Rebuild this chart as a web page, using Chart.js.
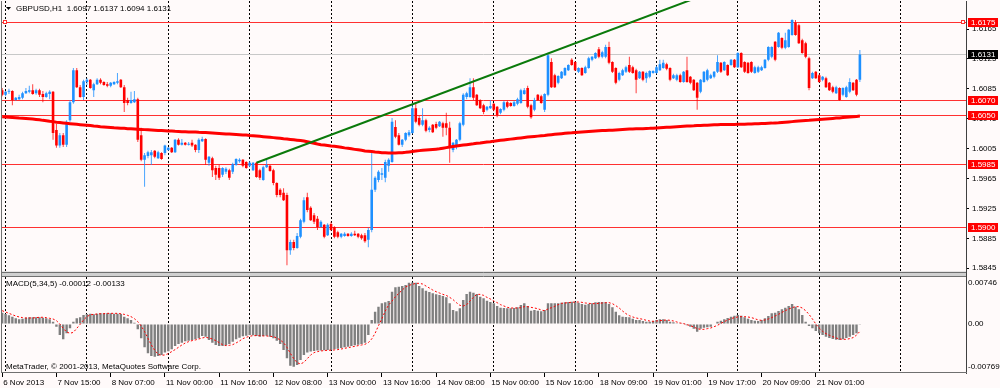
<!DOCTYPE html>
<html>
<head>
<meta charset="utf-8">
<title>GBPUSD,H1</title>
<script src="https://cdn.jsdelivr.net/npm/chart.js@4.4.1/dist/chart.umd.min.js"></script>
<style>
  html, body { margin: 0; padding: 0; background: #fffafa; }
  #wrap { width: 1000px; height: 388px; }
</style>
</head>
<body>
<div id="wrap"><canvas id="mt4Chart" width="1000" height="388"></canvas></div>
<script>
// GBPUSD H1 candles, one entry per hourly bar (bar 0 = 6 Nov 23:00)
const opens = [
  1.6083,1.6077,1.6081,1.6082,1.6070,1.6071,1.6073,1.6079,1.6081,1.6083,
  1.6079,1.6083,1.6078,1.6074,1.6078,1.6081,1.6030,1.6009,1.6023,1.6010,
  1.6043,1.6067,1.6110,1.6087,1.6074,1.6094,1.6097,1.6083,1.6091,1.6097,
  1.6094,1.6091,1.6089,1.6091,1.6093,1.6097,1.6087,1.6070,1.6066,1.6067,
  1.6071,1.6023,1.5990,1.5995,1.5996,1.6002,1.5992,1.5999,1.5999,1.6003,
  1.6006,1.6000,1.6017,1.6010,1.6013,1.6010,1.6013,1.6010,1.6003,1.6015,
  1.6018,1.5986,1.5992,1.5979,1.5979,1.5970,1.5974,1.5976,1.5974,1.5983,
  1.5988,1.5990,1.5987,1.5982,1.5976,1.5986,1.5976,1.5963,1.5980,1.5982,
  1.5976,1.5959,1.5950,1.5946,1.5943,1.5869,1.5880,1.5872,1.5887,1.5907,
  1.5940,1.5926,1.5916,1.5911,1.5900,1.5903,1.5889,1.5904,1.5900,1.5893,
  1.5887,1.5888,1.5891,1.5888,1.5891,1.5891,1.5889,1.5889,1.5883,1.5896,
  1.5950,1.5963,1.5970,1.5966,1.5982,1.5987,1.6034,1.6023,1.6010,1.6017,
  1.6023,1.6026,1.6059,1.6046,1.6037,1.6043,1.6030,1.6037,1.6038,1.6035,
  1.6039,1.6039,1.6033,1.6003,1.6007,1.6017,1.6037,1.6074,1.6074,1.6087,
  1.6077,1.6070,1.6063,1.6057,1.6059,1.6065,1.6061,1.6053,1.6057,1.6067,
  1.6066,1.6062,1.6065,1.6066,1.6078,1.6086,1.6063,1.6057,1.6077,1.6075,
  1.6057,1.6077,1.6121,1.6103,1.6093,1.6099,1.6103,1.6110,1.6124,1.6121,
  1.6108,1.6113,1.6106,1.6113,1.6124,1.6126,1.6138,1.6128,1.6128,1.6141,
  1.6121,1.6113,1.6097,1.6103,1.6108,1.6117,1.6114,1.6110,1.6099,1.6108,
  1.6099,1.6101,1.6106,1.6106,1.6110,1.6113,1.6118,1.6113,1.6099,1.6097,
  1.6103,1.6094,1.6110,1.6101,1.6097,1.6093,1.6081,1.6094,1.6097,1.6099,
  1.6101,1.6108,1.6120,1.6110,1.6117,1.6117,1.6124,1.6114,1.6133,1.6121,
  1.6120,1.6121,1.6106,1.6108,1.6110,1.6113,1.6124,1.6128,1.6148,1.6141,
  1.6153,1.6140,1.6141,1.6157,1.6173,1.6170,1.6150,1.6146,1.6126,1.6099,
  1.6108,1.6103,1.6097,1.6099,1.6093,1.6087,1.6079,1.6086,1.6077,1.6074,
  1.6081,1.6093,1.6097,1.6097
];
const highs = [
  1.6086,1.6082,1.6085,1.6083,1.6074,1.6077,1.6081,1.6086,1.6089,1.6091,
  1.6085,1.6085,1.6082,1.6081,1.6083,1.6082,1.6038,1.6026,1.6026,1.6043,
  1.6070,1.6113,1.6113,1.6090,1.6097,1.6099,1.6098,1.6093,1.6099,1.6099,
  1.6095,1.6094,1.6094,1.6095,1.6106,1.6098,1.6090,1.6073,1.6081,1.6082,
  1.6073,1.6033,1.5999,1.6002,1.6003,1.6003,1.6002,1.6000,1.6010,1.6007,
  1.6007,1.6018,1.6019,1.6018,1.6014,1.6014,1.6017,1.6011,1.6019,1.6021,
  1.6019,1.5995,1.5994,1.5982,1.5983,1.5980,1.5980,1.5978,1.5986,1.5992,
  1.5992,1.5991,1.5988,1.5988,1.5987,1.5987,1.5978,1.5982,1.5992,1.5983,
  1.5978,1.5960,1.5952,1.5952,1.5946,1.5883,1.5883,1.5892,1.5911,1.5940,
  1.5946,1.5928,1.5919,1.5915,1.5909,1.5904,1.5905,1.5907,1.5901,1.5895,
  1.5892,1.5893,1.5892,1.5893,1.5895,1.5892,1.5891,1.5892,1.5899,1.6000,
  1.5968,1.5976,1.5979,1.5990,1.5992,1.6046,1.6043,1.6026,1.6018,1.6027,
  1.6030,1.6063,1.6066,1.6049,1.6059,1.6045,1.6035,1.6038,1.6041,1.6042,
  1.6041,1.6053,1.6041,1.6014,1.6018,1.6041,1.6079,1.6081,1.6099,1.6099,
  1.6078,1.6071,1.6065,1.6062,1.6070,1.6066,1.6062,1.6059,1.6069,1.6069,
  1.6067,1.6069,1.6073,1.6085,1.6086,1.6089,1.6065,1.6073,1.6078,1.6077,
  1.6079,1.6133,1.6126,1.6105,1.6103,1.6109,1.6114,1.6118,1.6126,1.6122,
  1.6114,1.6114,1.6116,1.6128,1.6129,1.6134,1.6141,1.6136,1.6144,1.6148,
  1.6122,1.6114,1.6108,1.6112,1.6116,1.6128,1.6116,1.6112,1.6109,1.6109,
  1.6108,1.6110,1.6110,1.6116,1.6124,1.6124,1.6120,1.6114,1.6105,1.6105,
  1.6105,1.6109,1.6128,1.6102,1.6098,1.6094,1.6098,1.6109,1.6112,1.6105,
  1.6109,1.6130,1.6121,1.6122,1.6118,1.6125,1.6125,1.6134,1.6134,1.6122,
  1.6121,1.6122,1.6116,1.6116,1.6116,1.6125,1.6142,1.6142,1.6149,1.6161,
  1.6154,1.6160,1.6165,1.6178,1.6177,1.6172,1.6152,1.6148,1.6128,1.6108,
  1.6109,1.6105,1.6102,1.6101,1.6094,1.6089,1.6089,1.6087,1.6087,1.6089,
  1.6099,1.6094,1.6098,1.6137
];
const lows = [
  1.6075,1.6075,1.6078,1.6063,1.6069,1.6070,1.6071,1.6078,1.6079,1.6077,
  1.6077,1.6074,1.6067,1.6073,1.6071,1.6017,1.6006,1.6006,1.6007,1.6007,
  1.6041,1.6065,1.6086,1.6073,1.6070,1.6090,1.6085,1.6074,1.6090,1.6091,
  1.6089,1.6087,1.6087,1.6090,1.6091,1.6086,1.6054,1.6063,1.6065,1.6066,
  1.6014,1.5988,1.5954,1.5992,1.5983,1.5992,1.5991,1.5990,1.5996,1.6002,
  1.5999,1.5999,1.6009,1.6009,1.6009,1.6009,1.6007,1.6000,1.5999,1.6014,
  1.5983,1.5982,1.5967,1.5963,1.5963,1.5967,1.5971,1.5963,1.5971,1.5982,
  1.5986,1.5980,1.5978,1.5980,1.5975,1.5966,1.5963,1.5962,1.5979,1.5974,
  1.5956,1.5940,1.5940,1.5935,1.5849,1.5863,1.5869,1.5871,1.5885,1.5905,
  1.5920,1.5908,1.5904,1.5896,1.5899,1.5885,1.5888,1.5895,1.5885,1.5885,
  1.5885,1.5887,1.5887,1.5887,1.5888,1.5885,1.5883,1.5879,1.5873,1.5893,
  1.5947,1.5960,1.5963,1.5960,1.5974,1.5986,1.6019,1.6009,1.6007,1.6015,
  1.6021,1.6025,1.6039,1.6035,1.6035,1.6027,1.6027,1.6026,1.6031,1.6034,
  1.6021,1.6023,1.5986,1.6000,1.6004,1.6015,1.6035,1.6071,1.6073,1.6070,
  1.6062,1.6058,1.6051,1.6055,1.6058,1.6055,1.6047,1.6051,1.6055,1.6059,
  1.6061,1.6061,1.6063,1.6065,1.6077,1.6059,1.6045,1.6055,1.6069,1.6065,
  1.6054,1.6075,1.6086,1.6086,1.6091,1.6098,1.6102,1.6109,1.6116,1.6109,
  1.6106,1.6102,1.6105,1.6112,1.6122,1.6125,1.6126,1.6126,1.6126,1.6118,
  1.6106,1.6091,1.6095,1.6102,1.6106,1.6106,1.6105,1.6079,1.6098,1.6095,
  1.6093,1.6099,1.6105,1.6105,1.6109,1.6112,1.6110,1.6095,1.6098,1.6095,
  1.6093,1.6093,1.6093,1.6091,1.6082,1.6057,1.6079,1.6093,1.6095,1.6098,
  1.6099,1.6106,1.6106,1.6109,1.6102,1.6116,1.6113,1.6113,1.6113,1.6106,
  1.6105,1.6106,1.6105,1.6106,1.6109,1.6112,1.6122,1.6126,1.6122,1.6140,
  1.6138,1.6138,1.6140,1.6156,1.6156,1.6145,1.6132,1.6126,1.6083,1.6098,
  1.6098,1.6093,1.6095,1.6086,1.6082,1.6079,1.6078,1.6069,1.6075,1.6073,
  1.6079,1.6082,1.6075,1.6094
];
const closes = [
  1.6077,1.6081,1.6082,1.6070,1.6073,1.6074,1.6079,1.6082,1.6083,1.6078,
  1.6083,1.6077,1.6074,1.6079,1.6081,1.6026,1.6009,1.6023,1.6010,1.6041,
  1.6067,1.6110,1.6087,1.6074,1.6095,1.6097,1.6086,1.6091,1.6097,1.6093,
  1.6090,1.6089,1.6093,1.6094,1.6095,1.6087,1.6066,1.6066,1.6070,1.6071,
  1.6017,1.5990,1.5996,1.6000,1.6000,1.5994,1.6000,1.5991,1.6009,1.6006,
  1.6000,1.6017,1.6010,1.6013,1.6010,1.6011,1.6009,1.6003,1.6017,1.6018,
  1.5990,1.5994,1.5976,1.5970,1.5966,1.5979,1.5978,1.5966,1.5984,1.5991,
  1.5990,1.5982,1.5979,1.5986,1.5986,1.5967,1.5966,1.5980,1.5983,1.5975,
  1.5959,1.5943,1.5943,1.5936,1.5869,1.5880,1.5872,1.5888,1.5909,1.5936,
  1.5923,1.5909,1.5907,1.5900,1.5907,1.5887,1.5903,1.5896,1.5887,1.5887,
  1.5891,1.5891,1.5888,1.5891,1.5889,1.5887,1.5885,1.5881,1.5896,1.5950,
  1.5966,1.5974,1.5972,1.5987,1.5990,1.6041,1.6021,1.6010,1.6017,1.6026,
  1.6027,1.6059,1.6041,1.6037,1.6043,1.6029,1.6033,1.6027,1.6033,1.6041,
  1.6033,1.6033,1.6006,1.6013,1.6017,1.6039,1.6077,1.6079,1.6087,1.6073,
  1.6063,1.6059,1.6054,1.6061,1.6062,1.6057,1.6050,1.6058,1.6067,1.6061,
  1.6062,1.6067,1.6071,1.6083,1.6083,1.6061,1.6047,1.6070,1.6070,1.6066,
  1.6078,1.6130,1.6087,1.6087,1.6102,1.6108,1.6113,1.6117,1.6117,1.6110,
  1.6113,1.6103,1.6114,1.6126,1.6128,1.6133,1.6128,1.6134,1.6141,1.6120,
  1.6108,1.6093,1.6106,1.6110,1.6114,1.6108,1.6106,1.6097,1.6108,1.6097,
  1.6106,1.6109,1.6109,1.6114,1.6118,1.6120,1.6112,1.6097,1.6103,1.6103,
  1.6094,1.6108,1.6094,1.6093,1.6083,1.6073,1.6097,1.6108,1.6110,1.6103,
  1.6108,1.6121,1.6108,1.6121,1.6103,1.6124,1.6114,1.6133,1.6114,1.6108,
  1.6106,1.6108,1.6114,1.6114,1.6114,1.6124,1.6141,1.6141,1.6124,1.6160,
  1.6140,1.6150,1.6164,1.6177,1.6157,1.6146,1.6133,1.6128,1.6086,1.6106,
  1.6099,1.6094,1.6101,1.6087,1.6083,1.6081,1.6087,1.6070,1.6086,1.6087,
  1.6094,1.6083,1.6077,1.6131
];

// thick red moving average
const maValues = [
  1.60477,1.60473,1.60470,1.60466,1.60463,1.60459,1.60457,1.60453,1.60450,1.60446,
  1.60440,1.60435,1.60428,1.60423,1.60416,1.60411,1.60404,1.60399,1.60394,1.60388,
  1.60384,1.60379,1.60375,1.60370,1.60366,1.60362,1.60358,1.60352,1.60348,1.60343,
  1.60340,1.60336,1.60333,1.60329,1.60327,1.60324,1.60321,1.60317,1.60315,1.60312,
  1.60309,1.60307,1.60304,1.60301,1.60299,1.60296,1.60293,1.60291,1.60288,1.60285,
  1.60284,1.60281,1.60280,1.60277,1.60276,1.60273,1.60272,1.60271,1.60268,1.60267,
  1.60265,1.60263,1.60259,1.60256,1.60253,1.60250,1.60246,1.60244,1.60241,1.60238,
  1.60236,1.60233,1.60232,1.60226,1.60222,1.60218,1.60214,1.60209,1.60205,1.60201,
  1.60197,1.60192,1.60188,1.60182,1.60178,1.60173,1.60168,1.60162,1.60157,1.60151,
  1.60142,1.60131,1.60121,1.60111,1.60103,1.60097,1.60091,1.60085,1.60081,1.60075,
  1.60069,1.60060,1.60054,1.60047,1.60040,1.60034,1.60027,1.60018,1.60014,1.60010,
  1.60004,1.60000,1.59995,1.59994,1.59992,1.59991,1.59992,1.59994,1.59996,1.60000,
  1.60006,1.60012,1.60018,1.60023,1.60027,1.60031,1.60035,1.60039,1.60043,1.60047,
  1.60055,1.60063,1.60071,1.60079,1.60086,1.60093,1.60098,1.60103,1.60109,1.60114,
  1.60121,1.60126,1.60133,1.60138,1.60143,1.60150,1.60155,1.60161,1.60166,1.60172,
  1.60177,1.60182,1.60188,1.60193,1.60198,1.60204,1.60209,1.60213,1.60217,1.60222,
  1.60226,1.60232,1.60236,1.60241,1.60245,1.60250,1.60254,1.60259,1.60261,1.60265,
  1.60268,1.60272,1.60275,1.60279,1.60283,1.60287,1.60289,1.60292,1.60293,1.60296,
  1.60297,1.60300,1.60303,1.60305,1.60308,1.60311,1.60312,1.60315,1.60316,1.60317,
  1.60320,1.60321,1.60324,1.60327,1.60329,1.60332,1.60335,1.60337,1.60340,1.60343,
  1.60345,1.60348,1.60351,1.60354,1.60355,1.60358,1.60360,1.60363,1.60364,1.60367,
  1.60368,1.60370,1.60371,1.60372,1.60372,1.60374,1.60374,1.60375,1.60375,1.60375,
  1.60378,1.60379,1.60382,1.60383,1.60386,1.60387,1.60390,1.60391,1.60394,1.60396,
  1.60400,1.60403,1.60407,1.60411,1.60415,1.60418,1.60422,1.60426,1.60428,1.60432,
  1.60436,1.60439,1.60443,1.60447,1.60450,1.60454,1.60458,1.60461,1.60465,1.60469,
  1.60473,1.60477,1.60481,1.60485
];

// MACD(5,34,5): main (histogram) and signal (dotted)
const macdMain = [
  0.00203,0.00179,0.00155,0.00132,0.00102,0.00084,0.00096,0.00114,0.00120,0.00120,
  0.00120,0.00120,0.00114,0.00102,0.00084,0.00042,-0.00048,-0.00197,-0.00275,-0.00167,
  -0.00078,0.00042,0.00102,0.00120,0.00161,0.00179,0.00185,0.00173,0.00185,0.00191,
  0.00191,0.00191,0.00191,0.00185,0.00185,0.00179,0.00132,0.00102,0.00072,0.00024,
  -0.00096,-0.00257,-0.00419,-0.00526,-0.00574,-0.00586,-0.00574,-0.00556,-0.00514,-0.00490,
  -0.00454,-0.00395,-0.00359,-0.00335,-0.00311,-0.00299,-0.00287,-0.00275,-0.00257,-0.00215,
  -0.00227,-0.00287,-0.00335,-0.00377,-0.00395,-0.00395,-0.00383,-0.00359,-0.00317,-0.00275,
  -0.00245,-0.00221,-0.00209,-0.00197,-0.00203,-0.00215,-0.00227,-0.00215,-0.00209,-0.00227,
  -0.00257,-0.00299,-0.00359,-0.00466,-0.00616,-0.00752,-0.00769,-0.00736,-0.00646,-0.00556,
  -0.00514,-0.00496,-0.00484,-0.00478,-0.00478,-0.00472,-0.00466,-0.00466,-0.00454,-0.00443,
  -0.00431,-0.00419,-0.00407,-0.00395,-0.00383,-0.00371,-0.00359,-0.00335,-0.00197,0.00072,
  0.00221,0.00311,0.00371,0.00389,0.00413,0.00580,0.00658,0.00670,0.00682,0.00700,
  0.00742,0.00746,0.00742,0.00682,0.00640,0.00598,0.00574,0.00550,0.00532,0.00520,
  0.00502,0.00478,0.00371,0.00251,0.00227,0.00281,0.00431,0.00538,0.00580,0.00562,
  0.00538,0.00490,0.00460,0.00419,0.00395,0.00371,0.00323,0.00293,0.00287,0.00281,
  0.00281,0.00287,0.00299,0.00341,0.00371,0.00323,0.00239,0.00251,0.00239,0.00227,
  0.00251,0.00371,0.00371,0.00371,0.00371,0.00383,0.00389,0.00395,0.00401,0.00401,
  0.00383,0.00359,0.00347,0.00359,0.00371,0.00389,0.00395,0.00395,0.00389,0.00359,
  0.00299,0.00221,0.00155,0.00132,0.00126,0.00120,0.00096,0.00072,0.00072,0.00054,
  0.00042,0.00042,0.00054,0.00072,0.00084,0.00084,0.00072,0.00042,0.00030,0.00012,
  0.00012,0.00006,-0.00024,-0.00048,-0.00084,-0.00138,-0.00084,-0.00066,-0.00060,-0.00048,
  0.00000,0.00042,0.00060,0.00084,0.00108,0.00132,0.00150,0.00161,0.00150,0.00120,
  0.00096,0.00072,0.00060,0.00054,0.00072,0.00102,0.00144,0.00191,0.00203,0.00233,
  0.00263,0.00293,0.00323,0.00359,0.00311,0.00263,0.00161,0.00042,-0.00036,-0.00078,
  -0.00126,-0.00167,-0.00197,-0.00227,-0.00251,-0.00269,-0.00281,-0.00287,-0.00275,-0.00251,
  -0.00227,-0.00197,-0.00167,-0.00012
];
const macdSignal = [
  0.00239,0.00215,0.00191,0.00167,0.00144,0.00126,0.00114,0.00108,0.00108,0.00108,
  0.00114,0.00120,0.00120,0.00114,0.00102,0.00090,0.00060,0.00000,-0.00078,-0.00144,
  -0.00167,-0.00150,-0.00078,-0.00006,0.00072,0.00132,0.00167,0.00173,0.00179,0.00185,
  0.00185,0.00191,0.00191,0.00191,0.00191,0.00185,0.00173,0.00155,0.00132,0.00096,
  0.00042,-0.00036,-0.00138,-0.00257,-0.00377,-0.00472,-0.00544,-0.00562,-0.00556,-0.00532,
  -0.00496,-0.00460,-0.00419,-0.00377,-0.00341,-0.00317,-0.00299,-0.00287,-0.00269,-0.00251,
  -0.00239,-0.00251,-0.00269,-0.00299,-0.00335,-0.00371,-0.00389,-0.00383,-0.00371,-0.00341,
  -0.00305,-0.00263,-0.00239,-0.00221,-0.00209,-0.00209,-0.00209,-0.00215,-0.00215,-0.00221,
  -0.00227,-0.00251,-0.00287,-0.00335,-0.00419,-0.00526,-0.00622,-0.00694,-0.00718,-0.00688,
  -0.00622,-0.00556,-0.00514,-0.00496,-0.00484,-0.00478,-0.00472,-0.00472,-0.00466,-0.00460,
  -0.00449,-0.00437,-0.00425,-0.00413,-0.00401,-0.00389,-0.00377,-0.00365,-0.00335,-0.00269,
  -0.00167,-0.00030,0.00096,0.00233,0.00341,0.00413,0.00490,0.00550,0.00610,0.00664,
  0.00694,0.00712,0.00730,0.00730,0.00718,0.00682,0.00646,0.00610,0.00580,0.00556,
  0.00532,0.00514,0.00478,0.00437,0.00383,0.00335,0.00323,0.00347,0.00413,0.00478,
  0.00532,0.00532,0.00514,0.00478,0.00449,0.00413,0.00383,0.00347,0.00323,0.00299,
  0.00287,0.00287,0.00287,0.00293,0.00311,0.00311,0.00299,0.00287,0.00275,0.00251,
  0.00239,0.00269,0.00293,0.00317,0.00347,0.00371,0.00377,0.00383,0.00389,0.00395,
  0.00395,0.00389,0.00377,0.00371,0.00365,0.00365,0.00371,0.00377,0.00383,0.00383,
  0.00365,0.00329,0.00287,0.00233,0.00185,0.00150,0.00126,0.00108,0.00096,0.00084,
  0.00066,0.00054,0.00048,0.00054,0.00060,0.00066,0.00072,0.00066,0.00054,0.00036,
  0.00018,0.00006,-0.00012,-0.00030,-0.00054,-0.00084,-0.00096,-0.00096,-0.00084,-0.00072,
  -0.00048,-0.00024,0.00012,0.00042,0.00072,0.00096,0.00114,0.00126,0.00132,0.00132,
  0.00126,0.00114,0.00096,0.00072,0.00066,0.00072,0.00090,0.00114,0.00144,0.00173,
  0.00209,0.00239,0.00269,0.00293,0.00311,0.00311,0.00287,0.00239,0.00173,0.00090,
  0.00000,-0.00072,-0.00132,-0.00173,-0.00203,-0.00227,-0.00251,-0.00269,-0.00275,-0.00275,
  -0.00263,-0.00245,-0.00200,-0.00133
];

// time axis: labelled bars and grid bars
const labelBars = [0, 16, 32, 48, 64, 80, 96, 112, 128, 144, 160, 176, 192, 208, 224, 240];
const timeLabels = ['6 Nov 2013', '7 Nov 15:00', '8 Nov 07:00', '11 Nov 00:00', '11 Nov 16:00',
  '12 Nov 08:00', '13 Nov 00:00', '13 Nov 16:00', '14 Nov 08:00', '15 Nov 00:00', '15 Nov 16:00',
  '18 Nov 09:00', '19 Nov 01:00', '19 Nov 17:00', '20 Nov 09:00', '21 Nov 01:00'];
const gridBars = [1, 25, 49, 73, 97, 121, 145, 169, 193, 217, 241, 265];

// price scale ticks, horizontal levels, trendline, MACD scale ticks
const priceTicks = [1.5845, 1.5885, 1.5925, 1.5965, 1.6005, 1.6045, 1.6085, 1.6125, 1.6165];
const levels = [1.6175, 1.6070, 1.6050, 1.5985, 1.5900];
const lastPrice = 1.6131;
const trendPoints = [{ x: 75, y: 1.5986 }, { x: 212, y: 1.6219 }];
const macdTicks = [0.00746, 0, -0.00769];

const FONT_FAMILY = '"Liberation Sans", Arial, sans-serif';
const FONT_SIZE = 8;
const CANVAS_FONT = FONT_SIZE + 'px ' + FONT_FAMILY;
const BULL = '#1e90ff';
const BEAR = '#ff0000';

const isBull = i => closes[i] >= opens[i];
const n = closes.length;

// frame, levels, separator and texts in MetaTrader style
const mt4Frame = {
  id: 'mt4Frame',
  beforeDraw(chart) {
    const c = chart.ctx;
    c.save();
    c.fillStyle = '#fffafa';
    c.fillRect(0, 0, chart.width, chart.height);
    c.restore();
  },
  beforeDatasetsDraw(chart) {
    const c = chart.ctx;
    const area = chart.chartArea;
    const y = chart.scales.y;
    c.save();
    c.beginPath();
    c.rect(area.left, y.top, area.right - area.left, y.bottom - y.top);
    c.clip();
    c.lineWidth = 1;
    const hline = (v, color) => {
      const py = Math.round(y.getPixelForValue(v)) + 0.5;
      c.strokeStyle = color;
      c.beginPath();
      c.moveTo(area.left, py);
      c.lineTo(area.right, py);
      c.stroke();
    };
    hline(lastPrice, '#c8c8c8');
    levels.forEach(v => hline(v, '#ff3030'));
    c.restore();
  },
  afterDraw(chart) {
    const c = chart.ctx;
    const area = chart.chartArea;
    const y = chart.scales.y;
    c.save();

    // separator between price and MACD windows
    const split = y.bottom;
    c.fillStyle = '#d0d0d0';
    c.fillRect(area.left, split - 2, area.right - area.left, 5);
    c.strokeStyle = '#707070';
    c.lineWidth = 1;
    c.beginPath();
    c.moveTo(area.left, Math.round(split - 2) + 0.5);
    c.lineTo(area.right, Math.round(split - 2) + 0.5);
    c.moveTo(area.left, Math.round(split + 2) + 0.5);
    c.lineTo(area.right, Math.round(split + 2) + 0.5);
    // outer frame: left and bottom
    c.moveTo(area.left + 0.5, area.top);
    c.lineTo(area.left + 0.5, area.bottom);
    c.moveTo(area.left, Math.round(area.bottom) - 0.5);
    c.lineTo(area.right + 1, Math.round(area.bottom) - 0.5);
    c.stroke();

    // selection squares on the 1.6175 line
    const ty = Math.round(y.getPixelForValue(levels[0])) + 0.5;
    c.strokeStyle = '#ff3030';
    c.fillStyle = '#ffffff';
    [area.left + 2, area.right - 5].forEach(sx => {
      c.fillRect(sx, ty - 2, 4, 4);
      c.strokeRect(sx + 0.5, ty - 2, 3, 3);
    });

    // price labels on the right scale
    c.font = CANVAS_FONT;
    c.textBaseline = 'middle';
    c.textAlign = 'left';
    const tag = (v, bg) => {
      const py = Math.round(y.getPixelForValue(v));
      c.fillStyle = bg;
      c.fillRect(area.right + 2, py - 4, 30, 9);
      c.fillStyle = '#ffffff';
      c.fillText(v.toFixed(4), area.right + 5, py + 0.5);
    };
    levels.forEach(v => tag(v, '#ff0000'));
    tag(lastPrice, '#000000');

    // window captions
    c.fillStyle = '#000000';
    c.beginPath();
    c.moveTo(6, 7);
    c.lineTo(11, 7);
    c.lineTo(8.5, 10);
    c.closePath();
    c.fill();
    const last = n - 1;
    c.fillText('GBPUSD,H1  ' + opens[last].toFixed(4) + ' ' + highs[last].toFixed(4) + ' ' +
      lows[last].toFixed(4) + ' ' + closes[last].toFixed(4), 16, 9);
    c.fillText('MACD(5,34,5) ' + macdMain[last].toFixed(5) + ' ' + macdSignal[last].toFixed(5), 6, 284);
    c.fillText('MetaTrader, \u00a9 2001-2013, MetaQuotes Software Corp.', 6, 367);
    c.restore();
  }
};

const ctx = document.getElementById('mt4Chart').getContext('2d');

const mt4Chart = new Chart(ctx, {
  type: 'bar',
  data: {
    datasets: [
      {
        type: 'line',
        label: 'Trendline',
        data: trendPoints,
        yAxisID: 'y',
        borderColor: '#0b7a0b',
        borderWidth: 2,
        pointRadius: 0,
        tension: 0
      },
      {
        type: 'line',
        label: 'MA',
        data: maValues.map((v, i) => ({ x: i, y: v })),
        yAxisID: 'y',
        borderColor: '#ff0000',
        borderWidth: 3,
        pointRadius: 0,
        tension: 0
      },
      {
        label: 'Bodies',
        data: opens.map((o, i) => ({ x: i, y: [o, closes[i]] })),
        yAxisID: 'y',
        grouped: false,
        barThickness: 2.6,
        minBarLength: 1,
        borderWidth: 0,
        inflateAmount: 0,
        backgroundColor: c => isBull(c.dataIndex) ? BULL : BEAR
      },
      {
        label: 'Wicks',
        data: lows.map((l, i) => ({ x: i, y: [l, highs[i]] })),
        yAxisID: 'y',
        grouped: false,
        barThickness: 1,
        borderWidth: 0,
        inflateAmount: 0,
        backgroundColor: c => isBull(c.dataIndex) ? 'rgba(30,144,255,0.8)' : 'rgba(255,0,0,0.75)'
      },
      {
        type: 'line',
        label: 'Signal',
        data: macdSignal.map((v, i) => ({ x: i, y: v })),
        yAxisID: 'y2',
        borderColor: '#ff0000',
        borderWidth: 1,
        borderDash: [2, 2],
        pointRadius: 0,
        tension: 0
      },
      {
        label: 'MACD',
        data: macdMain.map((v, i) => ({ x: i, y: v })),
        yAxisID: 'y2',
        grouped: false,
        barThickness: 2.4,
        borderWidth: 0,
        inflateAmount: 0,
        backgroundColor: '#7f7f7f'
      }
    ]
  },
  options: {
    responsive: false,
    animation: false,
    devicePixelRatio: 1,
    layout: { autoPadding: false, padding: { left: 1, top: 1, right: 0, bottom: 0 } },
    plugins: {
      legend: { display: false },
      tooltip: { enabled: false },
      title: { display: false }
    },
    scales: {
      x: {
        type: 'linear',
        position: 'bottom',
        min: -0.35,
        max: 284.3,
        offset: false,
        afterBuildTicks: s => {
          const vals = Array.from(new Set(labelBars.concat(gridBars))).sort((a, b) => a - b);
          s.ticks = vals.map(v => ({ value: v }));
        },
        afterFit: s => { s.height = 15; s.paddingLeft = 0; s.paddingRight = 0; },
        ticks: {
          autoSkip: false,
          maxRotation: 0,
          minRotation: 0,
          align: 'start',
          labelOffset: 1,
          padding: 1,
          color: '#000000',
          font: { family: FONT_FAMILY, size: FONT_SIZE },
          callback: v => {
            const k = labelBars.indexOf(v);
            return k >= 0 ? timeLabels[k] : '';
          }
        },
        grid: {
          offset: false,
          drawOnChartArea: true,
          drawTicks: true,
          tickLength: 4,
          lineWidth: 1,
          color: c => (c.tick && gridBars.includes(c.tick.value)) ? '#000000' : 'rgba(0,0,0,0)',
          tickColor: c => (c.tick && labelBars.includes(c.tick.value)) ? '#000000' : 'rgba(0,0,0,0)'
        },
        border: { display: false, dash: [2, 2] }
      },
      y: {
        type: 'linear',
        position: 'right',
        stack: 'windows',
        stackWeight: 272.5,
        min: 1.58379,
        max: 1.62025,
        beginAtZero: false,
        afterBuildTicks: s => { s.ticks = priceTicks.map(v => ({ value: v })); },
        afterFit: s => { s.width = 34; s.paddingTop = 0; s.paddingBottom = 0; },
        ticks: {
          autoSkip: false,
          padding: 3,
          color: '#000000',
          font: { family: FONT_FAMILY, size: FONT_SIZE },
          callback: v => v.toFixed(4)
        },
        grid: { drawOnChartArea: false, drawTicks: true, tickLength: 3, tickColor: '#000000' },
        border: { display: true, color: '#404040' }
      },
      y2: {
        type: 'linear',
        position: 'right',
        stack: 'windows',
        stackWeight: 99.5,
        min: -0.0088,
        max: 0.009066,
        beginAtZero: false,
        afterBuildTicks: s => { s.ticks = macdTicks.map(v => ({ value: v })); },
        afterFit: s => { s.width = 34; s.paddingTop = 0; s.paddingBottom = 0; },
        ticks: {
          autoSkip: false,
          padding: 0,
          color: '#000000',
          font: { family: FONT_FAMILY, size: FONT_SIZE },
          callback: v => v === 0 ? '0.00' : v.toFixed(5)
        },
        grid: { drawOnChartArea: false, drawTicks: true, tickLength: 2, tickColor: 'rgba(0,0,0,0)' },
        border: { display: true, color: '#404040' }
      }
    }
  },
  plugins: [mt4Frame]
});
</script>
</body>
</html>
